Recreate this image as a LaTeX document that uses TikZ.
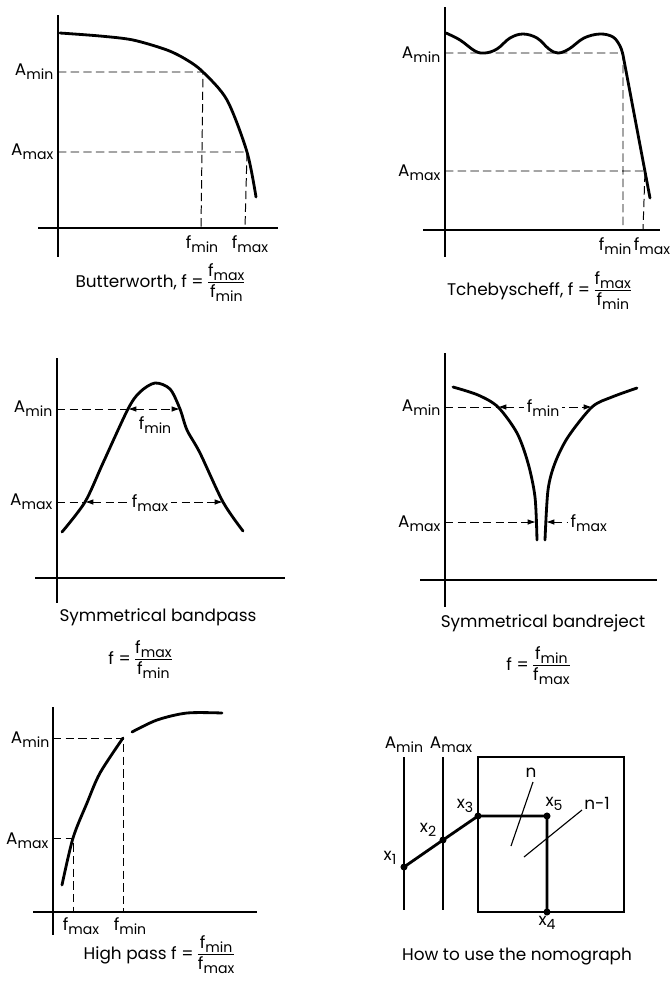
\documentclass[tikz,border=0pt]{standalone}
\usepackage{fontspec}
\setmainfont{Poppins}
\usetikzlibrary{arrows.meta}
\setlength{\arrayrulewidth}{0.6pt}
\newcommand{\lo}[1]{\raisebox{-0.45ex}{\fontsize{10}{10}\selectfont #1}}
\newcommand{\fr}[2]{$\vcenter{\hbox{\begin{tabular}{@{}c@{}}#1\\[0pt]\hline\rule{0pt}{10.5pt}#2\end{tabular}}}$}

\begin{document}
\begin{tikzpicture}[
  x=0.025cm, y=-0.025cm,
  ax/.style={line width=0.8pt},
  crv/.style={line width=2pt, line cap=round},
  dsh/.style={line width=0.7pt, dash pattern=on 6pt off 3pt},
  lbl/.style={font=\fontsize{12}{14}\selectfont, inner sep=1pt},
  gap/.style={lbl, fill=white, inner sep=2pt},
  dot/.style={circle, fill, inner sep=0pt, minimum size=5pt},
  >={Latex[length=6pt,width=4pt]}]
  \useasboundingbox (0,0) rectangle (671,982);
  % Butterworth
  \draw[ax] (58,15) -- (58,257) (38,228) -- (278,228);
  \draw[crv] plot[smooth] coordinates {(60,33) (100,36) (133,40) (167,50) (187,60)
    (203,72) (227,100) (247,152) (256,197)};
  \draw[dsh] (58,72) -- (203,72) -- (201,228) (58,152) -- (247,152) -- (245,228);
  \node[lbl, anchor=east] (bwAmin) at (55,72) {A\lo{min}};
  \node[lbl, anchor=east] (bwAmax) at (55,152) {A\lo{max}};
  \node[lbl] (bwfmin) at (202,244) {f\lo{min}};
  \node[lbl] (bwfmax) at (250,244) {f\lo{max}};
  \node[lbl] (bwcap) at (160,283) {Butterworth,\ f = \fr{f\lo{max}}{f\lo{min}}};
  % Tchebyscheff
  \draw[ax] (445,7) -- (445,257) (423,230) -- (660,230);
  \draw[crv] plot[smooth, tension=0.6] coordinates {(446,33) (460,40) (475,51) (485,53)
    (497,49) (510,38) (523,34) (537,38) (549,49) (558,53) (569,49) (584,38) (600,34)
    (613,37) (620,46) (623,55)} -- (650,198);
  \draw[dsh] (445,53) -- (623,53) -- (623,230) (445,171) -- (645,171) -- (643,230);
  \node[lbl, anchor=east] (tcAmin) at (442,55) {A\lo{min}};
  \node[lbl, anchor=east] (tcAmax) at (442,173) {A\lo{max}};
  \node[lbl] (tcfmin) at (615,246) {f\lo{min}};
  \node[lbl] (tcfmax) at (652,246) {f\lo{max}};
  \node[lbl] (tccap) at (539,291) {Tchebyscheff,\ f = \fr{f\lo{max}}{f\lo{min}}};
  % symmetrical bandpass
  \draw[ax] (57,358) -- (57,603) (35,578) -- (285,578);
  \draw[crv] plot[smooth] coordinates {(62,532) (85,502) (103,463) (128,409) (140,392)
    (155,383) (170,389) (180,409) (187,430) (200,453) (223,502) (243,531)};
  \draw[dsh] (57,409) -- (128,409) (57,502) -- (85,502);
  \draw[dsh, <->] (128,409) -- (180,409);
  \draw[dsh, <->] (85,502) -- (223,502);
  \node[lbl] (bpfmin) at (155,425) {f\lo{min}};
  \node[gap] (bpfmax) at (150,503) {f\lo{max}};
  \node[lbl, anchor=east] (bpAmin) at (54,409) {A\lo{min}};
  \node[lbl, anchor=east] (bpAmax) at (54,502) {A\lo{max}};
  \node[lbl] (bpcap) at (158,617) {Symmetrical bandpass};
  \node[lbl] (bpf) at (140,660) {f = \fr{f\lo{max}}{f\lo{min}}};
  % symmetrical bandreject
  \draw[ax] (445,353) -- (445,607) (420,580) -- (657,580);
  \draw[crv] plot[smooth] coordinates {(453,387) (478,395) (498,407) (517,433) (528,463)
    (535,497) (537,540)};
  \draw[crv] plot[smooth] coordinates {(545,540) (548,490) (555,463) (568,437) (592,407)
    (612,397) (637,388)};
  \draw[dsh] (445,407) -- (498,407);
  \draw[dsh, <->] (498,407) -- (592,407);
  \node[gap] (brfmin) at (543,408) {f\lo{min}};
  \draw[dsh, ->] (445,522) -- (536,522);
  \draw[dsh, <-] (546,522) -- (568,522);
  \node[lbl, anchor=west] (brfmax) at (569,523) {f\lo{max}};
  \node[lbl, anchor=east] (brAmin) at (442,408) {A\lo{min}};
  \node[lbl, anchor=east] (brAmax) at (442,524) {A\lo{max}};
  \node[lbl] (brcap) at (543,623) {Symmetrical bandreject};
  \node[lbl] (brf) at (538,666) {f = \fr{f\lo{min}}{f\lo{max}}};
  % high pass
  \draw[ax] (53,707) -- (53,935) (33,912) -- (257,912);
  \draw[crv] plot[smooth] coordinates {(62,885) (73,838) (87,803) (100,773) (123,738)};
  \draw[crv] plot[smooth] coordinates {(132,732) (157,720) (187,713) (222,713)};
  \draw[dsh] (53,738) -- (123,738) -- (123,912) (53,838) -- (73,838) -- (73,912);
  \node[lbl, anchor=east] (hpAmin) at (51,740) {A\lo{min}};
  \node[lbl, anchor=east] (hpAmax) at (50,841) {A\lo{max}};
  \node[lbl] (hpfmax) at (81,926) {f\lo{max}};
  \node[lbl] (hpfmin) at (130,926) {f\lo{min}};
  \node[lbl] (hpcap) at (159,955) {High pass\ f = \fr{f\lo{min}}{f\lo{max}}};
  % nomograph
  \draw[ax] (404,757) -- (404,910) (443,757) -- (443,910);
  \draw[ax] (478,757) rectangle (624,912);
  \coordinate (x1) at (404,867);
  \coordinate (x2) at (443,840);
  \coordinate (x3) at (478,816);
  \coordinate (x5) at (547,816);
  \coordinate (x4) at (547,912);
  \draw[crv] (x1) -- (x2) -- (x3) -- (x5) -- (x4);
  \foreach \p in {x1,x2,x3,x4,x5} \node[dot] at (\p) {};
  \node[lbl] (nmAmin) at (404,745) {A\lo{min}};
  \node[lbl] (nmAmax) at (451,745) {A\lo{max}};
  \node[lbl] (lx1) at (390,858) {x\lo{1}};
  \node[lbl] (lx2) at (428,830) {x\lo{2}};
  \node[lbl] (lx3) at (465,806) {x\lo{3}};
  \node[lbl] (lx5) at (554,804) {x\lo{5}};
  \node[lbl] (lx4) at (547,923) {x\lo{4}};
  \node[lbl] (nn) at (531,773) {n};
  \node[lbl] (nn1) at (597,803) {n-1};
  \draw[ax] (533,782) -- (511,846) (582,810) -- (524,857);
  \node[lbl] (nmcap) at (517,957) {How to use the nomograph};
\end{tikzpicture}
\end{document}
